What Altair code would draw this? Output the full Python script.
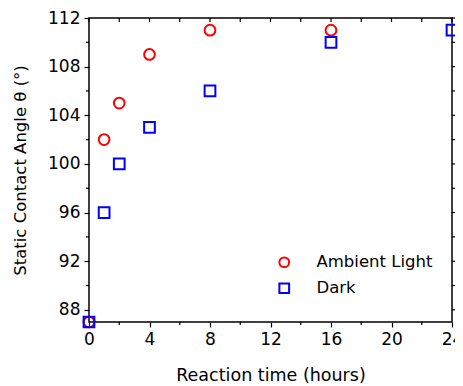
import altair as alt
import pandas as pd

hours_light = [0, 1, 2, 4, 8, 16]
angle_light = [87, 102, 105, 109, 111, 111]
hours_dark = [0, 1, 2, 4, 8, 16, 24]
angle_dark = [87, 96, 100, 103, 106, 110, 111]

x_major = [0, 4, 8, 12, 16, 20, 24]
x_minor = [2, 6, 10, 14, 18, 22]
y_major = [88, 92, 96, 100, 104, 108, 112]
y_minor = [90, 94, 98, 102, 106, 110]

W, H = 363, 304
FONT = "DejaVu Sans"

df = pd.DataFrame({
    "t": hours_light + hours_dark,
    "a": angle_light + angle_dark,
    "s": ["Ambient Light"] * len(hours_light) + ["Dark"] * len(hours_dark),
})

xs = alt.Scale(domain=[0, 24], nice=False, zero=False)
ys = alt.Scale(domain=[87, 112], nice=False, zero=False)

leg = alt.Legend(title=None, orient="none", legendX=187, legendY=236,
                 labelFontSize=16.5, labelFont=FONT, labelColor="black",
                 symbolStrokeWidth=2, symbolSize=95, rowPadding=7,
                 labelOffset=24, symbolFillColor="transparent")

points = alt.Chart(df).mark_point(filled=False, strokeWidth=2, size=115, opacity=1).encode(
    x=alt.X("t:Q", scale=xs, title="Reaction time (hours)",
            axis=alt.Axis(values=x_major, tickSize=5, tickWidth=1.2, labelPadding=4,
                          titlePadding=19, grid=False, domain=False, tickColor="black",
                          labelColor="black", labelFontSize=17, titleFontSize=17.5,
                          labelFont=FONT, titleFont=FONT, titleFontWeight="normal",
                          labelFlush=False)),
    y=alt.Y("a:Q", scale=ys, title="Static Contact Angle θ (°)",
            axis=alt.Axis(values=y_major, tickSize=5, tickWidth=1.2, labelPadding=4,
                          titlePadding=19, grid=False, domain=False, tickColor="black",
                          labelColor="black", labelFontSize=17, titleFontSize=16.5,
                          labelFont=FONT, titleFont=FONT, titleFontWeight="normal",
                          labelFlush=False)),
    shape=alt.Shape("s:N", scale=alt.Scale(domain=["Ambient Light", "Dark"], range=["circle", "square"]),
                    legend=leg),
    color=alt.Color("s:N", scale=alt.Scale(domain=["Ambient Light", "Dark"], range=["#ff0000", "#0000ff"]),
                    legend=leg),
)

mx = pd.DataFrame({"v": x_minor})
my = pd.DataFrame({"v": y_minor})
MX = pd.DataFrame({"v": x_major + x_minor})
MY = pd.DataFrame({"v": y_major + y_minor})

bot_minor = alt.Chart(mx).mark_rule(color="black", strokeWidth=1.2).encode(
    x=alt.X("v:Q", scale=xs), y=alt.value(H), y2=alt.value(H + 3))
left_minor = alt.Chart(my).mark_rule(color="black", strokeWidth=1.2).encode(
    y=alt.Y("v:Q", scale=ys), x=alt.value(0), x2=alt.value(-3))
top_ticks = alt.Chart(MX).mark_rule(color="black", strokeWidth=1.2).encode(
    x=alt.X("v:Q", scale=xs), y=alt.value(0), y2=alt.value(4))
right_ticks = alt.Chart(MY).mark_rule(color="black", strokeWidth=1.2).encode(
    y=alt.Y("v:Q", scale=ys), x=alt.value(W), x2=alt.value(W + 4))

chart = alt.layer(bot_minor, left_minor, top_ticks, right_ticks, points).properties(
    width=W, height=H,
    autosize=alt.AutoSizeParams(type="none"),
    padding={"left": 81, "top": 10, "right": 3, "bottom": 64},
).configure_view(stroke="black", strokeWidth=1.5).configure_axis(labelFont=FONT, titleFont=FONT)

chart.save("out.html", embed_options={"renderer": "svg", "actions": False})
